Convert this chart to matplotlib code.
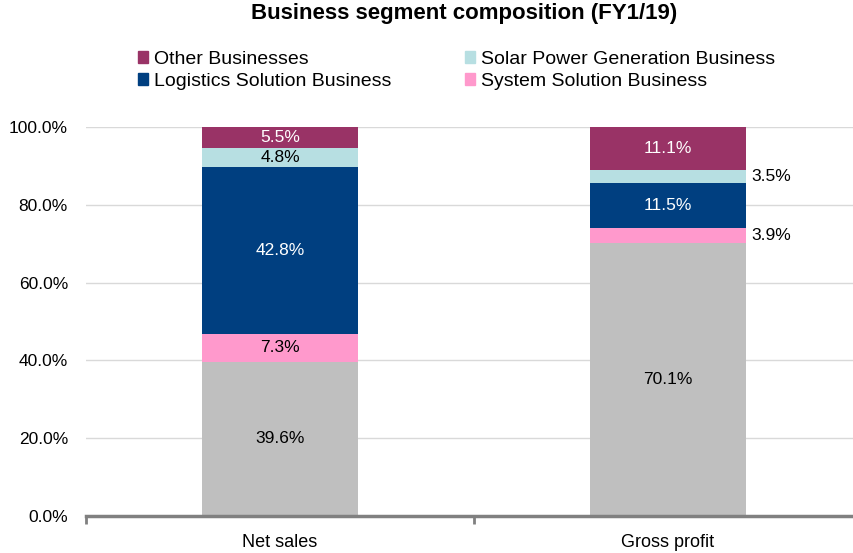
import numpy as np
import matplotlib.pyplot as plt
from matplotlib.patches import Patch

plt.rcParams['font.family'] = ['Liberation Sans', 'DejaVu Sans']

categories = ["Net sales", "Gross profit"]
segments = ["Other", "System Solution Business", "Logistics Solution Business",
            "Solar Power Generation Business", "Other Businesses"]
grey_vals = [39.6, 70.1]
system_vals = [7.3, 3.9]
logistics_vals = [42.8, 11.5]
solar_vals = [4.8, 3.5]
other_vals = [5.5, 11.1]

colors = ["#BFBFBF", "#FF99CC", "#003F80", "#B7DFE2", "#993366"]
text_colors = ["black", "black", "white", "black", "white"]


def main():
    fig = plt.figure(figsize=(8.54, 5.53), dpi=100)
    ax = fig.add_axes([86 / 854, 37 / 553, 776 / 854, 389 / 553])

    series = [grey_vals, system_vals, logistics_vals, solar_vals, other_vals]
    x = np.arange(len(categories))
    bottom = np.zeros(len(categories))
    for i, vals in enumerate(series):
        vals = np.array(vals)
        ax.bar(x, vals, 0.402, bottom=bottom, color=colors[i], zorder=3)
        for j in range(len(categories)):
            mid = bottom[j] + vals[j] / 2
            if vals[j] < 4.5 and j == 1:
                ax.text(x[j] + 0.215, mid, f"{vals[j]:.1f}%", ha="left", va="center",
                        fontsize=12.5, color="black")
            else:
                ax.text(x[j], mid, f"{vals[j]:.1f}%", ha="center", va="center",
                        fontsize=12.5, color=text_colors[i])
        bottom += vals

    ax.set_xlim(-0.5, 1.5)
    ax.set_ylim(0, 100)
    ax.set_yticks(np.arange(0, 101, 20))
    ax.set_yticklabels([f"{v:.1f}%" for v in np.arange(0, 101, 20)], fontsize=12.5)
    ax.tick_params(axis="y", length=0, pad=13)
    ax.set_xticks([-0.5, 0.5, 1.5])
    ax.set_xticklabels([])
    ax.set_xticks(x, minor=True)
    ax.set_xticklabels(categories, minor=True, fontsize=13)
    ax.tick_params(axis="x", which="major", length=6, width=2, color="#808080")
    ax.tick_params(axis="x", which="minor", length=0, pad=13)
    ax.grid(axis="y", color="#D9D9D9", linewidth=1, zorder=0)
    for s in ["left", "right", "top"]:
        ax.spines[s].set_visible(False)
    ax.spines["bottom"].set_color("#808080")
    ax.spines["bottom"].set_linewidth(2.5)
    ax.spines["bottom"].set_zorder(4)

    handles = [Patch(color=colors[4], label="Other Businesses"),
               Patch(color=colors[2], label="Logistics Solution Business"),
               Patch(color=colors[3], label="Solar Power Generation Business"),
               Patch(color=colors[1], label="System Solution Business")]
    fig.legend(handles=handles, ncol=2, loc="upper left", bbox_to_anchor=(130 / 854, 1 - 43 / 553),
               frameon=False, fontsize=14, handlelength=0.55, handleheight=0.55,
               handletextpad=0.3, columnspacing=3.75, labelspacing=0.25, borderaxespad=0)

    fig.suptitle("Business segment composition (FY1/19)", fontsize=16, fontweight="bold",
                 x=464 / 854, y=0.995)
    fig.savefig("out.png", dpi=100)


if __name__ == "__main__":
    main()
